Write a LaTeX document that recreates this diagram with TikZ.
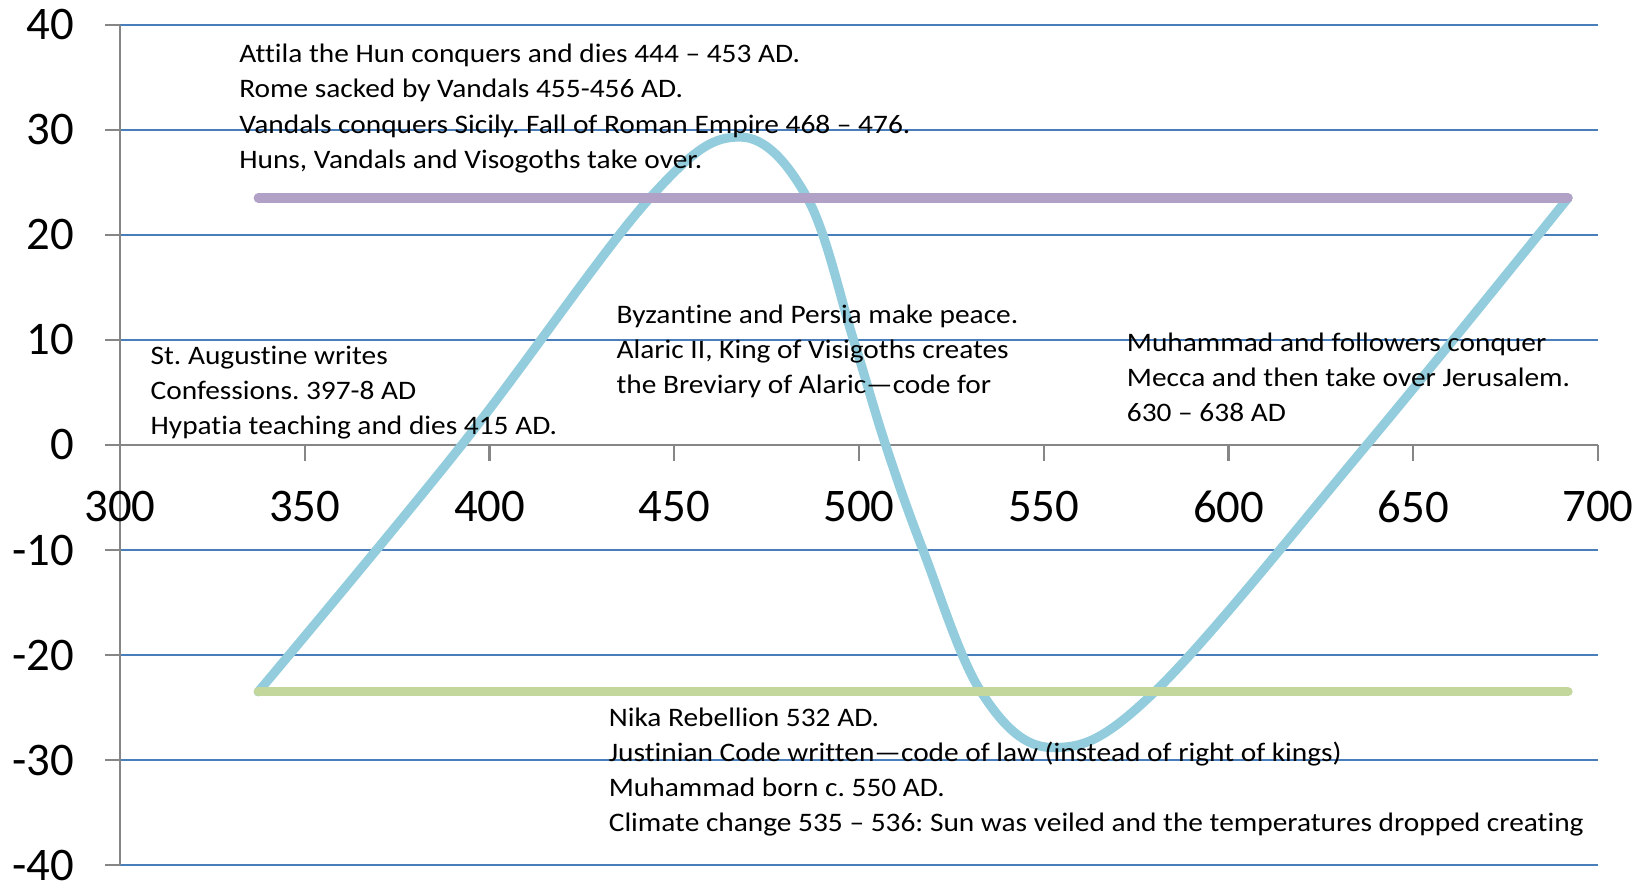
\documentclass[tikz,border=0pt]{standalone}
\usepackage{fontspec}
\setmainfont{Carlito}
\newfontfamily\notefont{Carlito}[FakeStretch=1.1, Ligatures={TeX,NoCommon}]
\usepackage{xcolor}
\frenchspacing
\definecolor{gridblue}{HTML}{4A7EBB}
\definecolor{axisgray}{HTML}{868686}
\definecolor{curveblue}{HTML}{93CDDD}
\definecolor{linepurple}{HTML}{B2A1C7}
\definecolor{linegreen}{HTML}{C3D69B}
\tikzset{gridline/.style={gridblue, line width=0.6pt},
	axisline/.style={axisgray, line width=0.6pt},
	series/.style={line width=2.6pt, line cap=round},
	ticklabel/.style={font=\fontsize{13.3}{16}\selectfont, inner sep=0pt},
	note/.style={font=\notefont\fontsize{7.6}{10}\selectfont, align=left, anchor=base west, inner sep=0pt}}

\begin{document}
\begin{tikzpicture}[x=0.03695cm, y=0.1051cm]
		\useasboundingbox (267.52,-41.58) rectangle (714.07,42.34);
		% grid and y axis
		\foreach \y in {-40,-30,...,40}{
			\draw[gridline] (300,\y)--(700,\y);
			\draw[axisline] (296,\y)--(300,\y);
			\node[ticklabel, anchor=east] (ylab\y) at (287.8,\y) {\y};
		}
		\draw[axisline] (300,-40)--(300,40);
		% x axis
		\draw[axisline] (300,0)--(700,0);
		\foreach \x in {300,350,...,700}{
			\draw[axisline] (\x,0)--(\x,-1.5);
			\node[ticklabel] (xlab\x) at (\x,-5.9) {\x};
		}
		% series
		\coordinate (lowstart) at (337.4,-23.5);
		\coordinate (lowend) at (691.9,-23.5);
		\coordinate (highstart) at (337.4,23.5);
		\coordinate (highend) at (691.9,23.5);
		\draw[series, curveblue] plot[smooth, tension=0.6] coordinates {(337.4,-23.5) (392.5,0) (443.4,23.5) (467.8,29.3) (486,23.5) (498.5,10) (507.2,0) (517.3,-10) (533.2,-23.6) (552.5,-28.8) (580,-23.5) (637.4,0) (691.9,23.5)};
		\draw[series, linepurple] (highstart)--(highend);
		\draw[series, linegreen] (lowstart)--(lowend);
		% events (node base = last line)
		\node[note] (attila) at (332.1,26.33) {Attila the Hun conquers and dies 444 – 453 AD.\\Rome sacked by Vandals 455-456 AD.\\Vandals conquers Sicily. Fall of Roman Empire 468 – 476.\\Huns, Vandals and Visogoths take over.};
		\node[note] (augustine) at (308.1,0.95) {St. Augustine writes\\Confessions. 397-8 AD\\Hypatia teaching and dies 415 AD.};
		\node[note] (byzantine) at (434.2,4.85) {Byzantine and Persia make peace.\\Alaric II, King of Visigoths creates\\the Breviary of Alaric—code for};
		\node[note] (muhammad) at (572.3,2.19) {Muhammad and followers conquer\\Mecca and then take over Jerusalem.\\630 – 638 AD};
		\node[note] (nika) at (432.1,-36.79) {Nika Rebellion 532 AD.\\Justinian Code written—code of law (instead of right of kings)\\Muhammad born c. 550 AD.\\Climate change 535 – 536: Sun was veiled and the temperatures dropped creating};
\end{tikzpicture}
\end{document}
